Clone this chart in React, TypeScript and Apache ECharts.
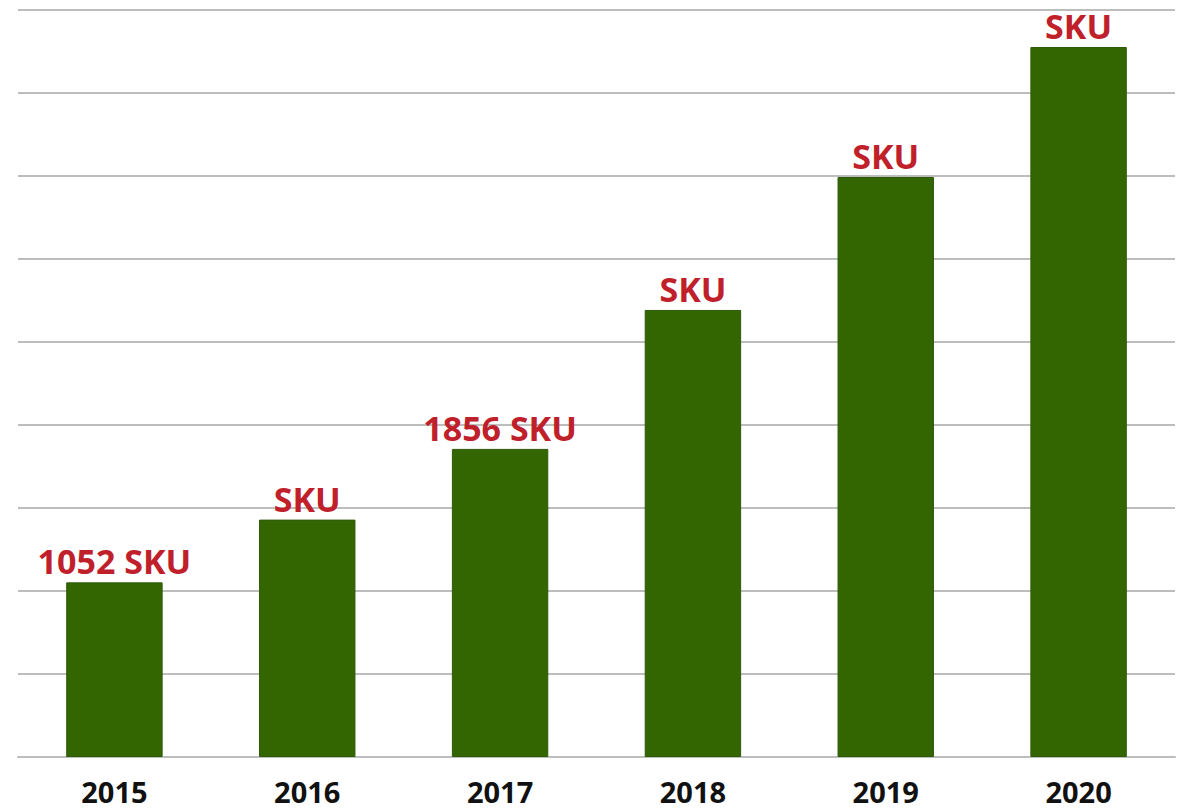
import React, { useEffect, useRef } from "react";
import * as echarts from "echarts";

const years = ["2015", "2016", "2017", "2018", "2019", "2020"];
const skuCounts = [1052, 1430, 1856, 2693, 3494, 4277];
const valueLabels = ["1052 SKU", "SKU", "1856 SKU", "SKU", "SKU", "SKU"];
const axisMax = 4500;
const axisStep = 500;

export default function App() {
  const ref = useRef<HTMLDivElement>(null);
  useEffect(() => {
    if (!ref.current) return;
    const chart = echarts.init(ref.current, null, { renderer: "svg" });
    chart.setOption({
      animation: false,
      backgroundColor: "#ffffff",
      grid: { left: 18, right: 8, top: 10, bottom: 52, containLabel: false },
      xAxis: {
        type: "category",
        data: years,
        axisLine: { show: true, lineStyle: { color: "#bdbdbd", width: 2 } },
        axisTick: { show: false },
        axisLabel: {
          color: "#111111",
          fontFamily: "Open Sans",
          fontWeight: "bold",
          fontSize: 29,
          lineHeight: 24,
          margin: 22,
        },
      },
      yAxis: {
        type: "value",
        min: 0,
        max: axisMax,
        interval: axisStep,
        axisLabel: { show: false },
        axisLine: { show: false },
        axisTick: { show: false },
        splitLine: { show: true, lineStyle: { color: "#bdbdbd", width: 2 } },
      },
      series: [
        {
          type: "bar",
          data: skuCounts,
          barWidth: "50%",
          itemStyle: { color: "#336600", borderColor: "#2e5a08", borderWidth: 1 },
          label: {
            show: true,
            position: "top",
            distance: 4,
            color: "#c0202a",
            fontFamily: "Open Sans",
            fontWeight: "bold",
            fontSize: 34,
            formatter: (p: any) => valueLabels[p.dataIndex],
          },
        },
      ],
    });
    return () => chart.dispose();
  }, []);
  return (
    <div
      ref={ref}
      style={{ position: "fixed", left: 0, top: 0, width: 1183, height: 809, background: "#fff" }}
    />
  );
}
